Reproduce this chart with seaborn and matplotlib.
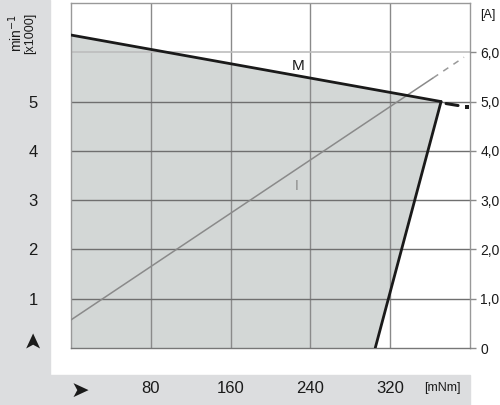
import matplotlib
matplotlib.use("Agg")
import matplotlib.pyplot as plt
import matplotlib.transforms as mtransforms
import seaborn as sns
import pandas as pd
import numpy as np
from matplotlib.patches import Rectangle

sns.set_theme(style="white")
plt.rcParams['font.family'] = ['Liberation Sans', 'DejaVu Sans']

# ---- data ----
torque_ticks = [80, 160, 240, 320]
speed_ticks = [1, 2, 3, 4, 5]          # x1000 min-1
current_ticks = [0, 1, 2, 3, 4, 5, 6]  # A
current_labels = ["0", "1,0", "2,0", "3,0", "4,0", "5,0", "6,0"]

# operating envelope (torque mNm, speed x1000 min-1)
env_torque = [0, 371, 305, 0]
env_speed = [6.35, 5.0, 0.0, 0.0]
# M line (speed-torque)
m_torque = [0, 371]
m_speed = [6.35, 5.0]
m_dash_torque = [376, 388]
m_dash_speed = [4.96, 4.92]
m_dot_torque = [397]
m_dot_speed = [4.88]
# right boundary
b_torque = [371, 305]
b_speed = [5.0, 0.0]
# current line I (torque mNm, current A)
i_torque = [0, 363]
i_current = [0.57, 5.48]
i_ext_torque = [363, 394]
i_ext_current = [5.48, 5.90]

W, H = 500, 405
fig = plt.figure(figsize=(5, 4.05), dpi=100)
fig.patch.set_facecolor("white")
band = "#dcdddf"
fig.patches.append(Rectangle((0, 0), 50 / W, 1, transform=fig.transFigure, color=band, zorder=-5))
fig.patches.append(Rectangle((0, 0), 470 / W, 30 / H, transform=fig.transFigure, color=band, zorder=-5))

ax = fig.add_axes([71 / W, 1 - 348 / H, (470 - 71) / W, (348 - 3) / H])
ax.set_facecolor("white")
ax.set_xlim(0, 400)
ax.set_ylim(0, 7)

# shaded envelope
ax.fill(env_torque, env_speed, color="#d3d7d6", zorder=1, lw=0)

# grid
for t in torque_ticks:
    ax.axvline(t, color="#8a8a8a", lw=1, zorder=2)
for s in speed_ticks:
    ax.axhline(s, color="#6f6f6f", lw=1, zorder=2)
ax.axhline(6, color="#bdbdbd", lw=1.2, zorder=2)

# lines
sns.lineplot(x=i_torque, y=i_current, ax=ax, color="#8a8a8a", lw=1.1, zorder=3)
sns.lineplot(x=i_ext_torque, y=i_ext_current, ax=ax, color="#9a9a9a", lw=1.1,
             linestyle=(0, (4, 4)), zorder=3)
sns.lineplot(x=m_torque, y=m_speed, ax=ax, color="#1a1a1a", lw=2, zorder=4)
sns.lineplot(x=b_torque, y=b_speed, ax=ax, color="#1a1a1a", lw=2, zorder=4)
sns.lineplot(x=m_dash_torque, y=m_dash_speed, ax=ax, color="#1a1a1a", lw=2.2, zorder=4)
sns.scatterplot(x=m_dot_torque, y=m_dot_speed, ax=ax, color="#1a1a1a", s=6,
                marker="s", linewidth=0, zorder=4)

ax.text(228, 5.73, "M", fontsize=11, color="#1a1a1a", ha="center", va="center", zorder=5)
ax.text(226, 3.28, "I", fontsize=10, color="#8a8a8a", ha="center", va="center", zorder=5)

# spines
for sp in ["top", "right", "left", "bottom"]:
    ax.spines[sp].set_visible(True)
    ax.spines[sp].set_color("#999999")
    ax.spines[sp].set_linewidth(1)
ax.spines["bottom"].set_color("#777777")

# left ticks
ax.set_yticks([0] + speed_ticks)
ax.set_yticklabels(["➤"] + [str(s) for s in speed_ticks], fontsize=12, color="#1a1a1a")
ax.tick_params(axis="y", which="both", length=0, pad=24)
ylabs = ax.get_yticklabels()
ylabs[0].set_rotation(90)
ylabs[0].set_fontsize(16)
ylabs[0].set_va("bottom")
ylabs[0].set_transform(ylabs[0].get_transform() +
                       mtransforms.ScaledTranslation(0.06, 0, fig.dpi_scale_trans))

ax.set_xticks([0] + torque_ticks)
ax.set_xticklabels(["➤"] + [str(t) for t in torque_ticks], fontsize=12, color="#1a1a1a")
ax.tick_params(axis="x", which="both", length=0, pad=24)
xlabs = ax.get_xticklabels()
xlabs[0].set_fontsize(16)
xlabs[0].set_ha("left")

# right axis
ax2 = ax.twinx()
ax2.set_ylim(0, 7)
ax2.set_yticks(current_ticks)
ax2.set_yticklabels(current_labels, fontsize=10, color="#1a1a1a")
ax2.tick_params(axis="y", length=4.5, width=1, color="#8a8a8a", pad=3, direction="out")
for sp in ax2.spines.values():
    sp.set_visible(False)
ax2.grid(False)

fig.text(488 / W, 1 - 15 / H, "[A]", fontsize=9, color="#1a1a1a", ha="center", va="center")
fig.text(442 / W, 1 - 388 / H, "[mNm]", fontsize=9, color="#1a1a1a", ha="center", va="center")
fig.text(16 / W, 1 - 33 / H, "min$^{-1}$", fontsize=10, color="#1a1a1a", rotation=90,
         ha="center", va="center")
fig.text(30 / W, 1 - 33 / H, "[x1000]", fontsize=9, color="#1a1a1a", rotation=90,
         ha="center", va="center")

fig.savefig("out.png", dpi=100, facecolor=fig.get_facecolor())
